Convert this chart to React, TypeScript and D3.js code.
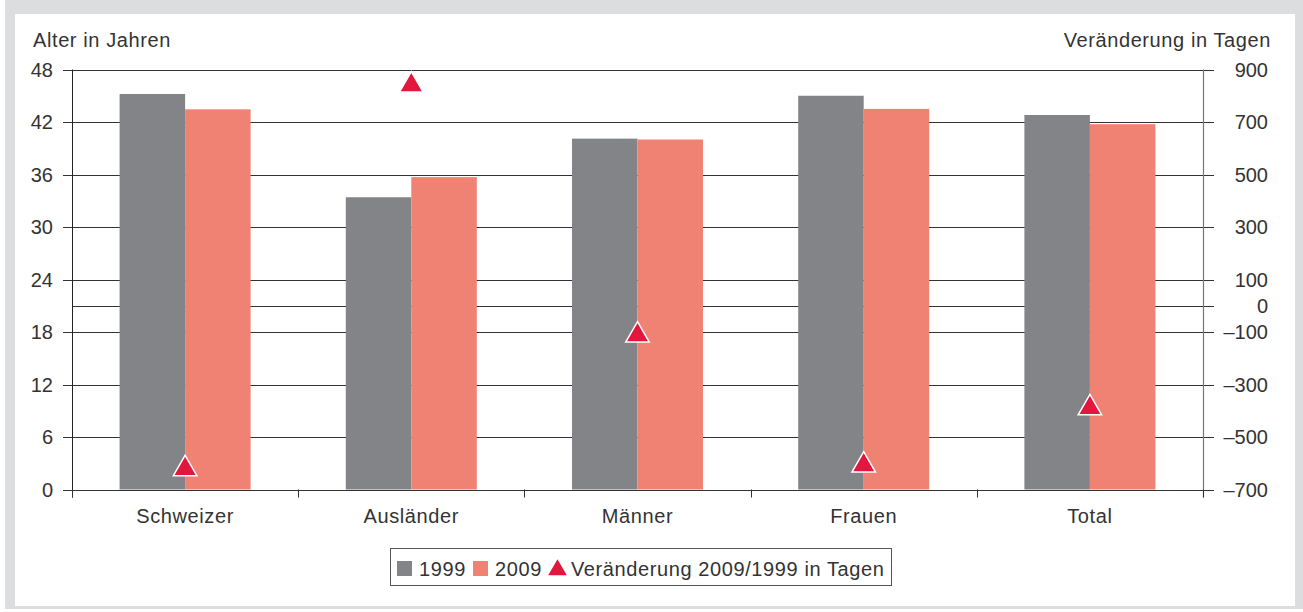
import React from "react";
import * as d3 from "d3";

const categories = ["Schweizer", "Ausländer", "Männer", "Frauen", "Total"];
const series = ["1999", "2009"];
const values1999 = [45.2, 33.4, 40.1, 45.0, 42.8];
const values2009 = [43.45, 35.7, 40.0, 43.5, 41.75];
const changeDays = [-614, 848, -105, -600, -382];
const leftTicks = [0, 6, 12, 18, 24, 30, 36, 42, 48];
const rightTicks = [900, 700, 500, 300, 100, 0, -100, -300, -500, -700];

const W = 1303;
const H = 612;
const FONT = "'Liberation Sans', Arial, sans-serif";
const GRAY = "#838488";
const PINK = "#ef8273";
const RED = "#e3173e";
const TXT = "#333333";
const LS = 0.6;

export default function App() {
  const left = 72;
  const right = 1203;
  const top = 69.5;
  const bottom = 489.5;

  const x = d3.scaleBand<string>().domain(categories).range([left, right]).paddingInner(0).paddingOuter(0);
  const yL = d3.scaleLinear().domain([0, 48]).range([bottom, top]);
  const yR = d3.scaleLinear().domain([-700, 900]).range([bottom, top]);
  const groupW = 131;
  const xs = d3.scaleBand<string>().domain(series).range([0, groupW]).padding(0);
  const tri = d3.symbol().type(d3.symbolTriangle).size(240);
  const triLegend = d3.symbol().type(d3.symbolTriangle).size(150);
  const seriesVals = [values1999, values2009];
  const seriesColors = [GRAY, PINK];

  const fmtR = (v: number) => (v < 0 ? "–" + Math.abs(v) : String(v));
  const bounds = [left, ...categories.map((c) => (x(c) as number) + x.bandwidth())];

  return (
    <svg width={W} height={H} style={{ position: "absolute", left: 0, top: 0, display: "block" }} fontFamily={FONT}>
      <rect x={0} y={0} width={W} height={H} fill="#ffffff" />
      <rect x={5} y={0} width={W - 5} height={H - 3} fill="#dcdddf" />
      <rect x={15} y={14} width={1280} height={592} fill="#ffffff" />

      {/* gridlines */}
      {leftTicks.map((t) => (
        <line key={"g" + t} x1={left - 9} x2={right} y1={Math.round(yL(t)) + 0.5} y2={Math.round(yL(t)) + 0.5} stroke="#333" strokeWidth={1} />
      ))}
      {/* right ticks */}
      {rightTicks.map((t) => (
        <line key={"r" + t} x1={t === 0 ? left : right - 12} x2={right + 11} y1={Math.round(yR(t)) + 0.5} y2={Math.round(yR(t)) + 0.5} stroke="#333" strokeWidth={1} />
      ))}

      {/* bars */}
      {categories.map((c, i) => {
        const cx = (x(c) as number) + x.bandwidth() / 2;
        return series.map((s, j) => {
          const v = seriesVals[j][i];
          return (
            <rect
              key={c + s}
              x={cx - groupW / 2 + (xs(s) as number)}
              y={yL(v)}
              width={xs.bandwidth()}
              height={yL(0) - yL(v)}
              fill={seriesColors[j]}
            />
          );
        });
      })}

      {/* axes */}
      <line x1={left + 0.5} x2={left + 0.5} y1={top} y2={bottom + 8} stroke="#222" strokeWidth={1} />
      <line x1={right + 0.5} x2={right + 0.5} y1={top} y2={bottom + 8} stroke="#777" strokeWidth={1.2} />
      <line x1={left} x2={right} y1={Math.round(bottom) + 0.5} y2={Math.round(bottom) + 0.5} stroke="#333" strokeWidth={1} />
      {bounds.map((b, i) => (
        <line key={"xt" + i} x1={Math.round(b) + 0.5} x2={Math.round(b) + 0.5} y1={bottom} y2={bottom + 8} stroke="#333" strokeWidth={1} />
      ))}

      {/* triangles */}
      {categories.map((c, i) => {
        const cx = (x(c) as number) + x.bandwidth() / 2;
        return (
          <path
            key={"tri" + c}
            d={tri() as string}
            transform={`translate(${cx},${yR(changeDays[i]) + 2})`}
            fill={RED}
            stroke="#fff"
            strokeWidth={1.5}
          />
        );
      })}

      {/* left tick labels */}
      {leftTicks.map((t) => (
        <text key={"lt" + t} x={53} y={yL(t) + 7} textAnchor="end" fontSize={20} fill={TXT}>
          {t}
        </text>
      ))}
      {rightTicks.map((t) => (
        <text key={"rt" + t} x={1268} y={yR(t) + 7} textAnchor="end" fontSize={20} fill={TXT}>
          {fmtR(t)}
        </text>
      ))}

      {/* axis titles */}
      <text x={33} y={47} fontSize={20} fill={TXT} letterSpacing={LS}>
        Alter in Jahren
      </text>
      <text x={1271} y={47} fontSize={20} fill={TXT} textAnchor="end" letterSpacing={LS}>
        Veränderung in Tagen
      </text>

      {/* category labels */}
      {categories.map((c) => (
        <text key={"cl" + c} x={(x(c) as number) + x.bandwidth() / 2} y={523} textAnchor="middle" fontSize={20} fill={TXT} letterSpacing={LS}>
          {c}
        </text>
      ))}

      {/* legend */}
      <rect x={390.5} y={548.5} width={501} height={37} fill="#fff" stroke="#555" strokeWidth={1} />
      <rect x={397} y={561} width={15} height={15} fill={GRAY} />
      <text x={419} y={576} fontSize={20} fill={TXT} letterSpacing={LS}>
        1999
      </text>
      <rect x={473} y={561} width={15} height={15} fill={PINK} />
      <text x={495} y={576} fontSize={20} fill={TXT} letterSpacing={LS}>
        2009
      </text>
      <path d={triLegend() as string} transform="translate(557.5,570)" fill={RED} />
      <text x={571} y={576} fontSize={20} fill={TXT} letterSpacing={LS}>
        Veränderung 2009/1999 in Tagen
      </text>
    </svg>
  );
}
